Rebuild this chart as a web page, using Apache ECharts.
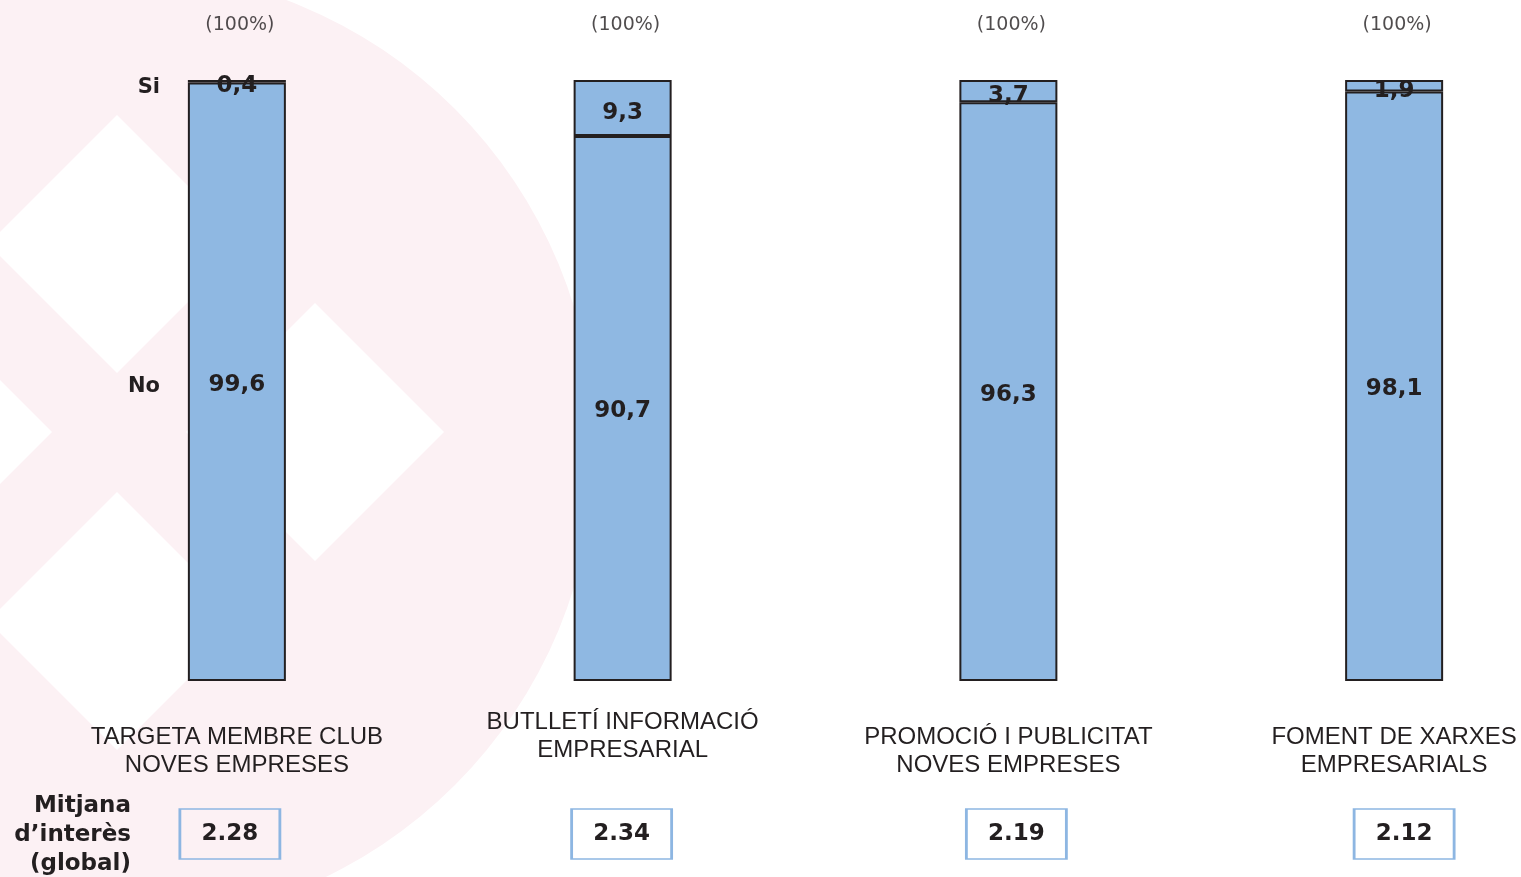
<!DOCTYPE html>
<html>
<head>
<meta charset="utf-8">
<script src="https://cdn.jsdelivr.net/npm/echarts@6/dist/echarts.min.js"></script>
<style>html,body{margin:0;padding:0;background:#fff;}#c{width:1521px;height:877px;}</style>
</head>
<body>
<div id="c"></div>
<script>
const categories = ['TARGETA MEMBRE CLUB\nNOVES EMPRESES', 'BUTLLETÍ INFORMACIÓ\nEMPRESARIAL', 'PROMOCIÓ I PUBLICITAT\nNOVES EMPRESES', 'FOMENT DE XARXES\nEMPRESARIALS'];
const noValues = [99.6, 90.7, 96.3, 98.1];
const siValues = [0.4, 9.3, 3.7, 1.9];
const totals = [100, 100, 100, 100];
const totalLabel = '(100%)';
const meanValues = [2.28, 2.34, 2.19, 2.12];
const seriesNames = ['No', 'Si'];
const meanTitle = 'Mitjana\nd’interès\n(global)';

const INK = '#231f20';
const BAR = '#8fb8e2';
const fmt = v => String(v).replace('.', ',');
const boxShift = [-7, -1, 8, 10];
const labelPad = [15, 0, 15, 15];

const chart = echarts.init(document.getElementById('c'), null, {renderer: 'canvas'});

const option = {
  backgroundColor: '#ffffff',
  animation: false,
  grid: [
    {left: 44, width: 1543, top: 80, height: 601, outerBoundsMode: 'none', containLabel: false},
    {left: 44, width: 1543, top: 809, height: 50, outerBoundsMode: 'none', containLabel: false}
  ],
  xAxis: [
    {
      type: 'category', gridIndex: 0,
      data: categories.map((c, i) => ({value: c, textStyle: {padding: [labelPad[i], 0, 0, 0]}})),
      axisLine: {show: false}, axisTick: {show: false}, splitLine: {show: false},
      axisLabel: {
        interval: 0, margin: 27, color: INK, fontFamily: 'Liberation Sans',
        fontSize: 24, lineHeight: 28, verticalAlign: 'top', hideOverlap: false
      }
    },
    {
      type: 'category', gridIndex: 1, data: categories,
      axisLine: {show: false}, axisTick: {show: false}, axisLabel: {show: false}
    }
  ],
  yAxis: [
    {type: 'value', gridIndex: 0, min: 0, max: 100, show: false},
    {type: 'value', gridIndex: 1, min: 0, max: 1, show: false}
  ],
  series: [
    {
      name: seriesNames[0], type: 'bar', stack: 'tot', barWidth: 98,
      data: noValues,
      itemStyle: {color: BAR, borderColor: INK, borderWidth: 2},
      label: {show: true, position: 'inside', offset: [0, 3], formatter: p => fmt(p.value),
        color: INK, fontFamily: 'DejaVu Sans', fontWeight: 'bold', fontSize: 23}
    },
    {
      name: seriesNames[1], type: 'bar', stack: 'tot', barWidth: 98,
      data: siValues,
      itemStyle: {color: BAR, borderColor: INK, borderWidth: 2},
      label: {show: true, position: 'inside', offset: [0, 5], formatter: p => fmt(p.value),
        color: INK, fontFamily: 'DejaVu Sans', fontWeight: 'bold', fontSize: 23}
    },
    {
      type: 'scatter', data: totals, symbolSize: 0, silent: true,
      label: {show: true, position: 'top', distance: 45, offset: [3, 0], formatter: totalLabel,
        color: INK, fontFamily: 'DejaVu Sans', fontSize: 19}
    },
    {
      type: 'scatter', xAxisIndex: 1, yAxisIndex: 1, clip: false,
      data: meanValues.map((v, i) => ({value: [i, 0.5], symbolOffset: [boxShift[i], 0]})),
      symbol: 'rect', symbolSize: [100, 50],
      itemStyle: {color: 'rgba(255,255,255,0)', borderColor: '#8db6e2', borderWidth: 2, opacity: 1},
      label: {show: true, position: 'inside', formatter: p => meanValues[p.dataIndex].toFixed(2),
        color: INK, fontFamily: 'DejaVu Sans', fontWeight: 'bold', fontSize: 23}
    }
  ]
};
chart.setOption(option);

// Si / No row labels aligned with the first bar's segments
const yNo = chart.convertToPixel({seriesIndex: 0}, [0, noValues[0] / 2])[1];
const ySi = chart.convertToPixel({seriesIndex: 0}, [0, noValues[0] + siValues[0] / 2])[1];

const diamond = (cx, cy, h) => [[cx, cy - h], [cx + h, cy], [cx, cy + h], [cx - h, cy]];

chart.setOption({
  graphic: [
    {type: 'circle', z: -20, silent: true, shape: {cx: 117, cy: 447, r: 478}, style: {fill: '#fcf1f4'}},
    {type: 'polygon', z: -19, silent: true, shape: {points: diamond(117, 244, 129)}, style: {fill: '#ffffff'}},
    {type: 'polygon', z: -19, silent: true, shape: {points: diamond(315, 432, 129)}, style: {fill: '#ffffff'}},
    {type: 'polygon', z: -19, silent: true, shape: {points: diamond(117, 621, 129)}, style: {fill: '#ffffff'}},
    {type: 'polygon', z: -19, silent: true, shape: {points: diamond(-77, 432, 129)}, style: {fill: '#ffffff'}},
    {type: 'text', z: 10, x: 160, y: ySi + 6, style: {text: seriesNames[1], textAlign: 'right', textVerticalAlign: 'middle',
      fill: INK, font: 'bold 21px "DejaVu Sans"'}},
    {type: 'text', z: 10, x: 160, y: yNo + 5, style: {text: seriesNames[0], textAlign: 'right', textVerticalAlign: 'middle',
      fill: INK, font: 'bold 21px "DejaVu Sans"'}},
    {type: 'text', z: 10, x: 131, y: 835, style: {text: meanTitle, textAlign: 'right', textVerticalAlign: 'middle',
      lineHeight: 29, fill: INK, font: 'bold 23px "DejaVu Sans"'}}
  ]
});
</script>
</body>
</html>
